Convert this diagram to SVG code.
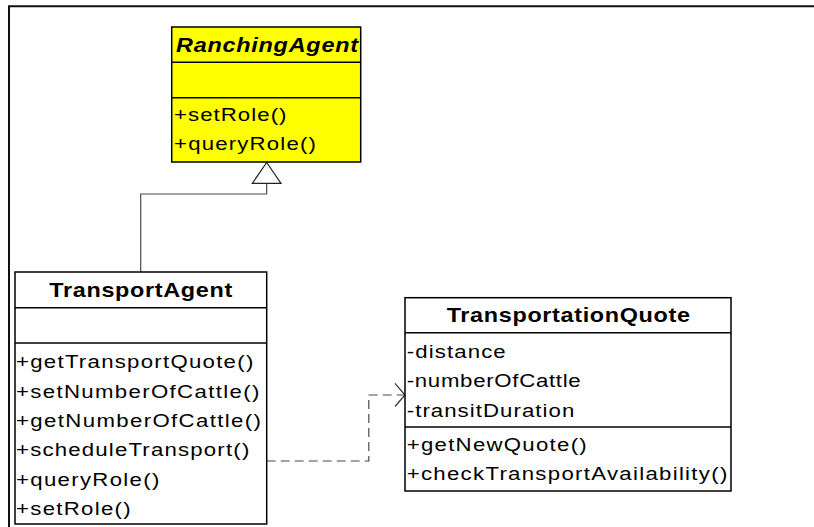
<svg xmlns="http://www.w3.org/2000/svg" width="814" height="527" viewBox="0 0 814 527">
<style>
.box{stroke:#000;stroke-width:1.5;fill:#fff}
.yel{fill:#ffff00}
.div{stroke:#000;stroke-width:1.5}
.t{font-family:"Liberation Sans",Arial,sans-serif;font-size:18.5px;fill:#000}
.h{font-family:"Liberation Sans",Arial,sans-serif;font-size:19.5px;font-weight:bold;fill:#000}
.conn{fill:none;stroke:#4a4a4a;stroke-width:1.2}
</style>
<rect width="814" height="527" fill="#fff"/>
<path d="M9 527 V6.3 H814" fill="none" stroke="#111" stroke-width="2"/>
<g id="connectors">
<path class="conn" d="M140.7 272 V194 H266.7 V183.3"/>
<polygon points="266.7,162.5 252.3,183.3 281,183.3" fill="#fff" stroke="#222" stroke-width="1.2"/>
<path class="conn" d="M266.7 461 H368.8 V395 H404" stroke-dasharray="9,5"/>
<path d="M395 383.3 L405 395 L395 406.5" fill="none" stroke="#333" stroke-width="1.2"/>
</g>
<g id="RanchingAgent">
<rect class="box yel" x="171.7" y="27" width="189" height="135"/>
<line class="div" x1="171.7" y1="62.3" x2="360.7" y2="62.3"/>
<line class="div" x1="171.7" y1="97.7" x2="360.7" y2="97.7"/>
<g transform="scale(1.2,1)">
<text class="h" font-style="italic" x="146.67" y="52.5" textLength="151.67" lengthAdjust="spacing">RanchingAgent</text>
<text class="t" x="145" y="121.5" textLength="93.75" lengthAdjust="spacing">+setRole()</text>
<text class="t" x="145" y="150.5" textLength="118.33" lengthAdjust="spacing">+queryRole()</text>
</g>
</g>
<g id="TransportAgent">
<rect class="box" x="15" y="272" width="251.7" height="252"/>
<line class="div" x1="15" y1="307.7" x2="266.7" y2="307.7"/>
<line class="div" x1="15" y1="343" x2="266.7" y2="343"/>
<g transform="scale(1.2,1)">
<text class="h" x="41.08" y="296.7" textLength="152.5" lengthAdjust="spacing">TransportAgent</text>
<text class="t" x="13.33" y="368.5" textLength="197.75" lengthAdjust="spacing">+getTransportQuote()</text>
<text class="t" x="13.33" y="397.8" textLength="202.75" lengthAdjust="spacing">+setNumberOfCattle()</text>
<text class="t" x="13.33" y="427.1" textLength="204.17" lengthAdjust="spacing">+getNumberOfCattle()</text>
<text class="t" x="13.33" y="456.4" textLength="194.42" lengthAdjust="spacing">+scheduleTransport()</text>
<text class="t" x="13.33" y="485.7" textLength="119.42" lengthAdjust="spacing">+queryRole()</text>
<text class="t" x="13.33" y="515" textLength="95.58" lengthAdjust="spacing">+setRole()</text>
</g>
</g>
<g id="TransportationQuote">
<rect class="box" x="405" y="297.7" width="326" height="193.3"/>
<line class="div" x1="405" y1="332.7" x2="731" y2="332.7"/>
<line class="div" x1="405" y1="427" x2="731" y2="427"/>
<g transform="scale(1.2,1)">
<text class="h" x="372.25" y="321.7" textLength="202.75" lengthAdjust="spacing">TransportationQuote</text>
<text class="t" x="338.92" y="357.7" textLength="82.5" lengthAdjust="spacing">-distance</text>
<text class="t" x="338.92" y="387.2" textLength="145" lengthAdjust="spacing">-numberOfCattle</text>
<text class="t" x="338.92" y="416.7" textLength="139.67" lengthAdjust="spacing">-transitDuration</text>
<text class="t" x="338.92" y="451" textLength="150" lengthAdjust="spacing">+getNewQuote()</text>
<text class="t" x="338.92" y="480.5" textLength="267.17" lengthAdjust="spacing">+checkTransportAvailability()</text>
</g>
</g>
</svg>
